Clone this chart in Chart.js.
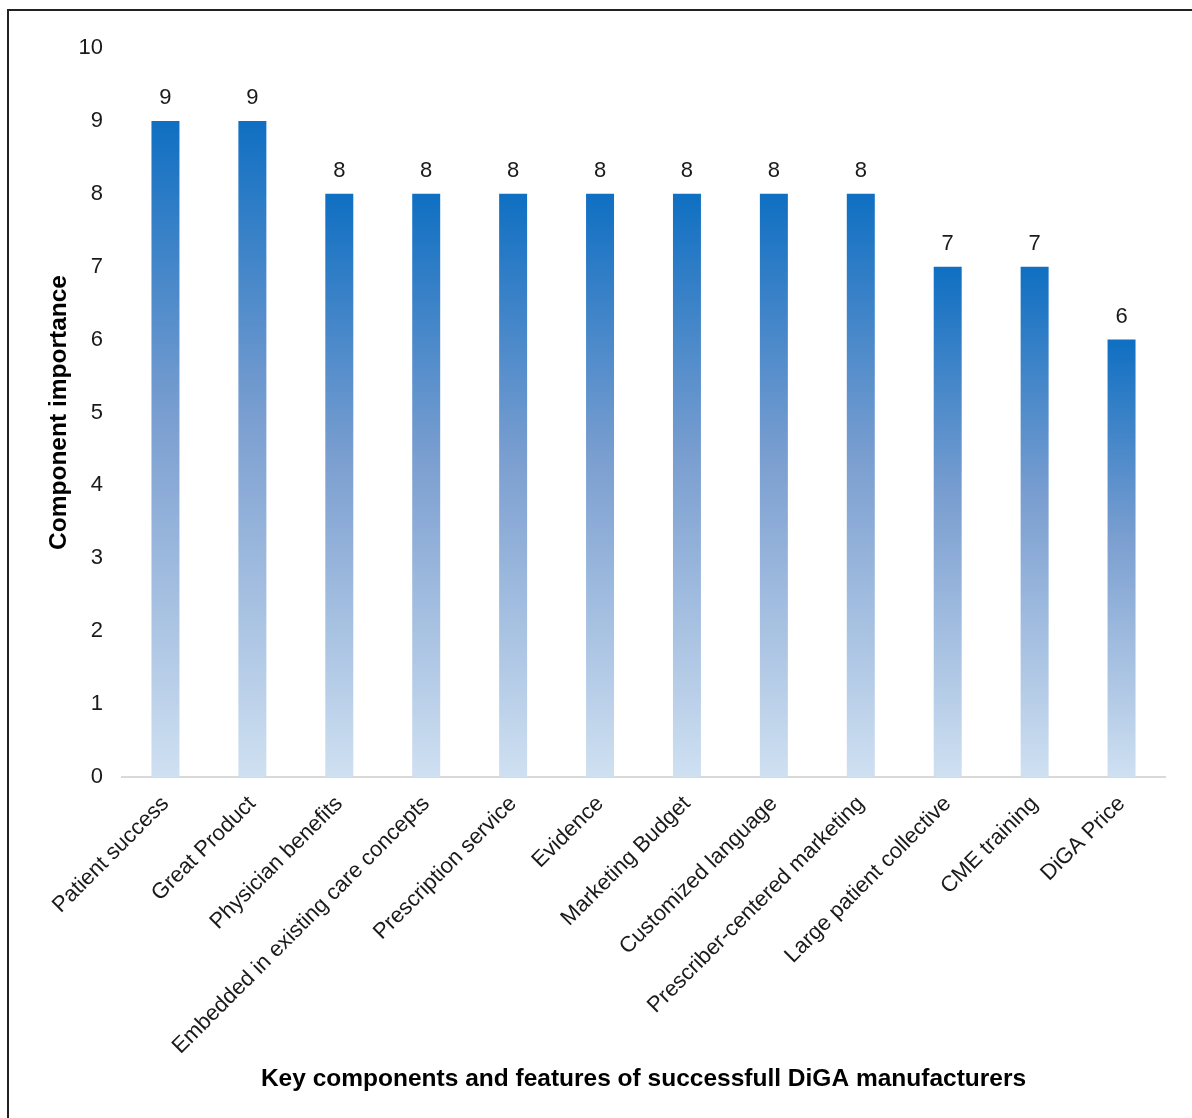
<!DOCTYPE html>
<html>
<head>
<meta charset="utf-8">
<script src="https://cdn.jsdelivr.net/npm/chart.js@4/dist/chart.umd.min.js"></script>
<style>
  html, body { margin: 0; padding: 0; background: #fff; }
  #wrap { position: relative; width: 1192px; height: 1118px; }
  #frame {
    position: absolute; left: 7px; top: 9px; right: 0; bottom: 0;
    border-top: 2px solid #222; border-left: 2px solid #222;
    pointer-events: none;
  }
</style>
</head>
<body>
<div id="wrap">
  <canvas id="chart" width="1192" height="1118"></canvas>
  <div id="frame"></div>
</div>
<script>
// categories and importance scores
const components = [
  'Patient success', 'Great Product', 'Physician benefits',
  'Embedded in existing care concepts', 'Prescription service', 'Evidence',
  'Marketing Budget', 'Customized language', 'Prescriber-centered marketing',
  'Large patient collective', 'CME training', 'DiGA Price'
];
const importance = [9, 9, 8, 8, 8, 8, 8, 8, 8, 7, 7, 6];
const yTicks = [0, 1, 2, 3, 4, 5, 6, 7, 8, 9, 10];

const FONT = '"Liberation Sans", Arial, sans-serif';
Chart.defaults.font.family = FONT;
Chart.defaults.color = '#1a1a1a';

// each bar gets its own dark-to-light vertical fade, from its top down to zero
function barFill(ctx) {
  const y = ctx.chart.scales.y;
  if (!y || ctx.raw === undefined) return '#6f96cd';
  const top = y.getPixelForValue(ctx.raw);
  const base = y.getPixelForValue(0);
  if (!isFinite(top) || !isFinite(base) || top === base) return '#6f96cd';
  const g = ctx.chart.ctx.createLinearGradient(0, top, 0, base);
  g.addColorStop(0, '#0f6fc2');
  g.addColorStop(0.45, '#7a9ed0');
  g.addColorStop(1, '#cfe0f1');
  return g;
}

// values printed above the bars
const valueLabels = {
  id: 'valueLabels',
  afterDatasetsDraw(chart) {
    const c = chart.ctx;
    const meta = chart.getDatasetMeta(0);
    c.save();
    c.font = '22px ' + FONT;
    c.fillStyle = '#1a1a1a';
    c.textAlign = 'center';
    c.textBaseline = 'bottom';
    meta.data.forEach((bar, i) => {
      c.fillText(String(importance[i]), bar.x, bar.y - 12);
    });
    c.restore();
  }
};

new Chart(document.getElementById('chart'), {
  type: 'bar',
  data: {
    labels: components,
    datasets: [{
      data: importance,
      backgroundColor: barFill,
      borderWidth: 0,
      categoryPercentage: 1,
      barPercentage: 0.322
    }]
  },
  options: {
    responsive: false,
    animation: false,
    layout: { padding: { top: 48, right: 27, left: 41, bottom: 20 } },
    plugins: { legend: { display: false }, tooltip: { enabled: false } },
    scales: {
      x: {
        grid: { display: false },
        border: { display: true, color: '#d9d9d9', width: 2 },
        ticks: {
          autoSkip: false, minRotation: 45, maxRotation: 45,
          padding: 6, font: { size: 22 }, color: '#1a1a1a'
        },
        title: {
          display: true,
          text: 'Key components and features of successfull DiGA manufacturers',
          font: { size: 24.5, weight: 'bold' }, color: '#000'
        },
        afterFit(scale) { scale.height = 321; }
      },
      y: {
        min: 0, max: 10,
        grid: { display: false },
        border: { display: false },
        afterBuildTicks(scale) { scale.ticks = yTicks.map(v => ({ value: v })); },
        ticks: { padding: 11, font: { size: 22 }, color: '#1a1a1a' },
        title: {
          display: true, text: 'Component importance',
          font: { size: 24.5, weight: 'bold' }, color: '#000'
        },
        afterFit(scale) { scale.width = 81; }
      }
    }
  },
  plugins: [valueLabels]
});
</script>
</body>
</html>
